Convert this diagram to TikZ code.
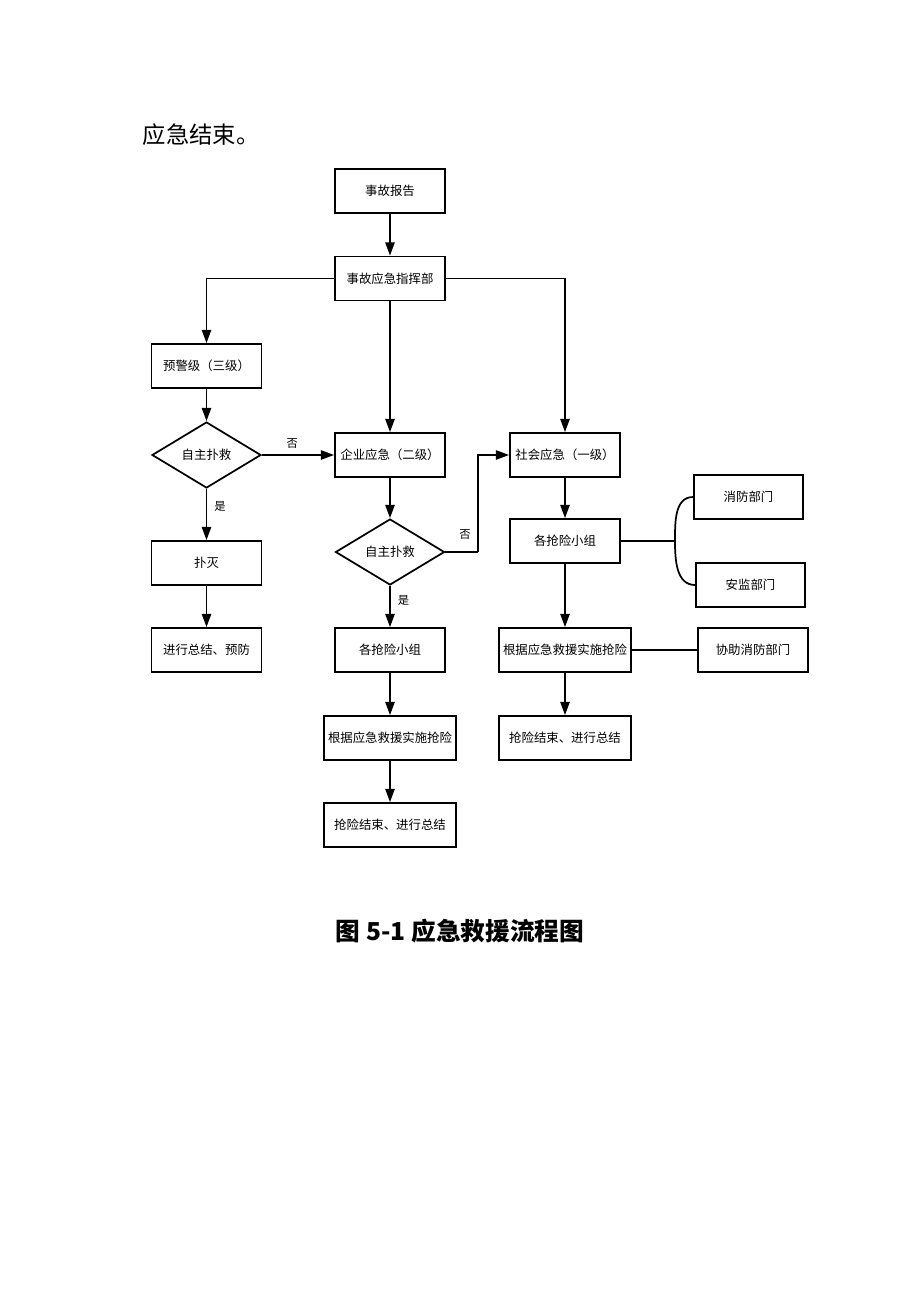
\documentclass[tikz,border=0pt]{standalone}
\usepackage{fontspec}
\setmainfont{Liberation Serif}
\newfontfamily\cjk{Noto Sans CJK SC}
\usetikzlibrary{arrows.meta,shapes.geometric}
\begin{document}
\begin{tikzpicture}[x=0.75pt,y=-0.75pt,
  box/.style={draw,line width=1.3pt,minimum width=#1*0.75pt,minimum height=44*0.75pt,inner sep=0pt,font=\cjk\fontsize{9.3}{11}\selectfont},
  box/.default=110,
  dia/.style={draw,line width=1.3pt,diamond,aspect=1.65,minimum width=109*0.75pt,minimum height=66*0.75pt,inner sep=0pt,font=\cjk\fontsize{9.3}{11}\selectfont},
  conn/.style={line width=1.3pt},
  arr/.style={conn,-{Triangle[length=10pt,width=7pt]}},
  lbl/.style={font=\cjk\fontsize{8.5}{10}\selectfont}]
\useasboundingbox (0,0) rectangle (920,1302);
\node[anchor=west,font=\cjk\fontsize{17.5}{20}\selectfont] (head) at (138,135) {应急结束。};
\node (rep) [box] at (390,191) {事故报告};
\node (cmd) [box] at (390,278.5) {事故应急指挥部};
\node (warn) [box] at (206.5,366) {预警级（三级）};
\node (d1) [dia] at (206.5,455) {自主扑救};
\node (ent) [box] at (390,455) {企业应急（二级）};
\node (soc) [box] at (565,455) {社会应急（一级）};
\node (fire) [box=109] at (748.5,497) {消防部门};
\node (grpR) [box] at (565,541) {各抢险小组};
\node (safe) [box=109] at (750.5,585) {安监部门};
\node (d2) [dia] at (390,552) {自主扑救};
\node (ext) [box] at (206.5,563) {扑灭};
\node (sumL) [box] at (206.5,650) {进行总结、预防};
\node (grpM) [box] at (390,650) {各抢险小组};
\node (doR) [box=132] at (565,650) {根据应急救援实施抢险};
\node (help) [box] at (753,650) {协助消防部门};
\node (doM) [box=132] at (390,738) {根据应急救援实施抢险};
\node (endR) [box=132] at (565,738) {抢险结束、进行总结};
\node (endM) [box=132] at (390,825) {抢险结束、进行总结};
\node[font=\cjk\bfseries\fontsize{18.5}{22}\selectfont] (cap) at (460,931) {图 5-1 应急救援流程图};
\coordinate (jn) at (478,552);
\coordinate (br) at (675,541);
\draw[arr] (rep) -- (cmd);
\draw[arr] (cmd.west) -| (warn.north);
\draw[arr] (cmd) -- (ent);
\draw[arr] (cmd.east) -| (soc.north);
\draw[arr] (warn) -- (d1);
\draw[arr] (d1.east) -- node[lbl,above=1pt,pos=0.42]{否} (ent.west);
\draw[arr] (d1.south) -- node[lbl,right=2pt,pos=0.35]{是} (ext.north);
\draw[arr] (ext) -- (sumL);
\draw[arr] (ent) -- (d2);
\draw[conn] (d2.east) -- (jn);
\draw[arr] (jn) |- (soc.west);
\node[lbl] (no2) at (465,535) {否};
\draw[arr] (d2.south) -- node[lbl,right=2pt,pos=0.35]{是} (grpM.north);
\draw[arr] (grpM) -- (doM);
\draw[arr] (doM) -- (endM);
\draw[arr] (soc) -- (grpR);
\draw[arr] (grpR) -- (doR);
\draw[arr] (doR) -- (endR);
\draw[conn] (doR.east) -- (help.west);
\draw[conn] (grpR.east) -- (br);
\draw[conn] (fire.west) to[out=180,in=90] (br) to[out=-90,in=180] (safe.west);
\end{tikzpicture}
\end{document}
